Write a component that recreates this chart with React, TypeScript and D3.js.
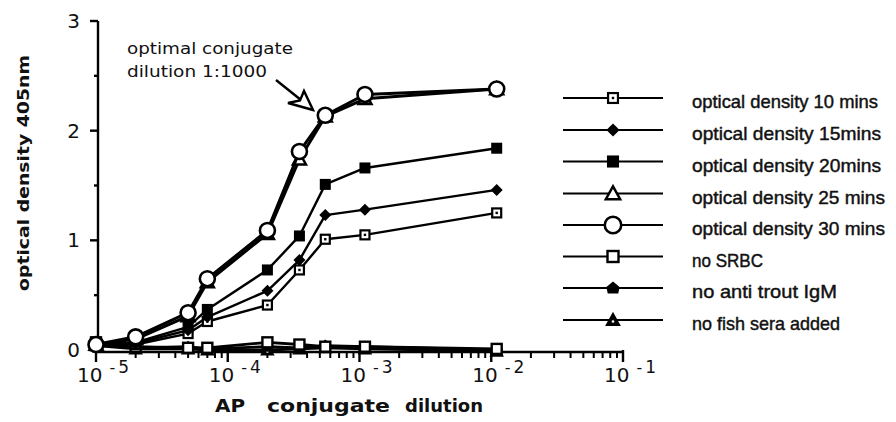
import React from 'react';
import * as d3 from 'd3';

// AP conjugate dilutions used in the ELISA titration
const dilutions = [1e-5, 2e-5, 5e-5, 7e-5, 2e-4, 3.5e-4, 5.5e-4, 1.1e-3, 1.1e-2];

// optical density (405nm) readings at each dilution
const od10 = [0.05, 0.05, 0.15, 0.26, 0.41, 0.73, 1.01, 1.05, 1.25];
const od15 = [0.05, 0.06, 0.18, 0.3, 0.54, 0.82, 1.23, 1.28, 1.46];
const od20 = [0.05, 0.07, 0.21, 0.37, 0.73, 1.04, 1.51, 1.66, 1.84];
const od25 = [0.05, 0.1, 0.31, 0.62, 1.06, 1.74, 2.13, 2.29, 2.38];
const od30 = [0.05, 0.12, 0.34, 0.65, 1.09, 1.81, 2.14, 2.33, 2.38];
const noSRBC = [0.07, 0.03, 0.02, 0.02, 0.07, 0.05, 0.03, 0.03, 0.01];
const noAntiTroutIgM = [0.05, 0.02, 0.03, 0.01, 0.03, 0.02, 0.04, 0.03, 0.0];
const noFishSera = [0.04, 0.01, 0.01, 0.0, 0.0, 0.01, 0.02, 0.01, -0.01];

const legendLabels = [
  'optical density 10 mins',
  'optical density 15mins',
  'optical density 20mins',
  'optical density 25 mins',
  'optical density 30 mins',
  'no SRBC',
  'no anti trout IgM',
  'no fish sera added',
];
const legendMarkers = ['sqdot', 'diamond', 'square', 'triangle', 'circle', 'opensq', 'pentagon', 'tridot'];
const legendTextWidths = [186, 189, 189, 193, 193, 71, 145, 148];

const yTicks = [0, 1, 2, 3];
const yMinorTicks = [0.5, 1.5, 2.5];
const xDecades = [-5, -4, -3, -2, -1];

type MarkerType = string;

function Marker({ type, cx, cy, big = false }: { type: MarkerType; cx: number; cy: number; big?: boolean }) {
  const k = big ? 1.1 : 1;
  switch (type) {
    case 'sqdot': {
      const h = 4.5 * k;
      return (
        <g>
          <rect x={cx - h} y={cy - h} width={2 * h} height={2 * h} fill="#fff" stroke="#000" strokeWidth={2.2} />
          <rect x={cx - 1.2} y={cy - 1.2} width={2.4} height={2.4} fill="#000" />
        </g>
      );
    }
    case 'diamond': {
      const s = 6 * k;
      return <path d={`M${cx},${cy - s}L${cx + s},${cy}L${cx},${cy + s}L${cx - s},${cy}Z`} fill="#000" />;
    }
    case 'square': {
      const h = 5.5 * k;
      return <rect x={cx - h} y={cy - h} width={2 * h} height={2 * h} fill="#000" />;
    }
    case 'triangle': {
      const s = 6.5 * k;
      return (
        <path
          d={`M${cx},${cy - s}L${cx + s},${cy + s * 0.8}L${cx - s},${cy + s * 0.8}Z`}
          fill="#fff"
          stroke="#000"
          strokeWidth={2.5}
          strokeLinejoin="miter"
        />
      );
    }
    case 'circle':
      return <circle cx={cx} cy={cy} r={7.5 * k} fill="#fff" stroke="#000" strokeWidth={2.6} />;
    case 'opensq': {
      const h = 5 * k;
      return <rect x={cx - h} y={cy - h} width={2 * h} height={2 * h} fill="#fff" stroke="#000" strokeWidth={2.4} />;
    }
    case 'pentagon': {
      const s = 6 * k;
      return (
        <path
          d={`M${cx},${cy - s}L${cx + s},${cy - s * 0.15}L${cx + s * 0.8},${cy + s * 0.85}L${cx - s * 0.8},${cy + s * 0.85}L${cx - s},${cy - s * 0.15}Z`}
          fill="#000"
        />
      );
    }
    case 'tridot': {
      const s = 6 * k;
      return (
        <g>
          <path d={`M${cx},${cy - s}L${cx + s},${cy + s * 0.8}L${cx - s},${cy + s * 0.8}Z`} fill="#000" stroke="#000" strokeWidth={1.5} />
          <circle cx={cx} cy={cy + 1.5} r={1.3} fill="#fff" />
        </g>
      );
    }
    default:
      return null;
  }
}

export default function App() {
  const W = 896;
  const H = 422;
  const x = d3.scaleLog().domain([1e-5, 1e-1]).range([96, 623]);
  const y = d3.scaleLinear().domain([0, 3]).range([350, 21]);
  const line = d3
    .line<number>()
    .x((_, i) => x(dilutions[i]))
    .y((d) => y(d));

  // draw order: controls underneath, strongest signal on top
  const series: { values: number[]; marker: MarkerType; width: number }[] = [
    { values: noFishSera, marker: 'tridot', width: 2.8 },
    { values: noAntiTroutIgM, marker: 'pentagon', width: 2.8 },
    { values: noSRBC, marker: 'opensq', width: 2.8 },
    { values: od10, marker: 'sqdot', width: 2.4 },
    { values: od15, marker: 'diamond', width: 2.4 },
    { values: od20, marker: 'square', width: 2.4 },
    { values: od25, marker: 'triangle', width: 3 },
    { values: od30, marker: 'circle', width: 3 },
  ];

  const minorX: number[] = [];
  for (let e = -5; e < -1; e++) {
    for (let m = 2; m <= 9; m++) minorX.push(m * Math.pow(10, e));
  }

  const [x0, x1] = x.range();
  const [yBottom, yTop] = y.range();
  const legendRows = [98, 130, 161.5, 193.5, 225, 256.5, 288, 320];

  return (
    <svg
      width={W}
      height={H}
      viewBox={`0 0 ${W} ${H}`}
      style={{ position: 'absolute', left: 0, top: 0, background: '#fff' }}
    >
      <rect width={W} height={H} fill="#fff" />

      {/* y axis */}
      <g stroke="#000" strokeWidth={2.4}>
        <line x1={x0 + 2} x2={x0 + 2} y1={yTop} y2={yBottom + 2} />
        {yTicks.map((t) => (
          <line key={`yt${t}`} x1={x0 - 6} x2={x0 + 2} y1={y(t)} y2={y(t)} />
        ))}
        {yMinorTicks.map((t) => (
          <line key={`ym${t}`} x1={x0 - 2} x2={x0 + 2} y1={y(t)} y2={y(t)} />
        ))}
      </g>
      <g fontFamily="DejaVu Sans, sans-serif" fontSize={20} textAnchor="end" fill="#111">
        {yTicks.map((t) => (
          <text key={`yl${t}`} x={x0 - 16} y={y(t) + 7}>
            {t}
          </text>
        ))}
      </g>

      {/* x axis */}
      <g stroke="#000" strokeWidth={2.4}>
        <line x1={x0} x2={x1} y1={yBottom + 2} y2={yBottom + 2} />
        {xDecades.map((e) => (
          <line key={`xt${e}`} x1={x(Math.pow(10, e))} x2={x(Math.pow(10, e))} y1={yBottom} y2={yBottom + 12} />
        ))}
        {minorX.map((v, i) => (
          <line key={`xm${i}`} x1={x(v)} x2={x(v)} y1={yBottom + 2} y2={yBottom + 8} strokeWidth={2} />
        ))}
      </g>
      <g fontFamily="DejaVu Sans, sans-serif" fill="#111">
        {xDecades.map((e) => {
          const px = x(Math.pow(10, e));
          return (
            <text key={`xl${e}`} x={px - 19} y={382} fontSize={20}>
              10
              <tspan dx={7} dy={-9} fontSize={16}>
                -
              </tspan>
              <tspan dx={3} fontSize={17}>
                {String(-e)}
              </tspan>
            </text>
          );
        })}
      </g>

      {/* axis titles */}
      <g fontFamily="DejaVu Sans, sans-serif" fontWeight="bold" fill="#111">
        <text
          transform="translate(29,173) rotate(-90)"
          textAnchor="middle"
          fontSize={15}
          textLength={236}
          lengthAdjust="spacingAndGlyphs"
        >
          optical density 405nm
        </text>
        <text x={215} y={412} fontSize={17} textLength={30} lengthAdjust="spacingAndGlyphs">
          AP
        </text>
        <text x={267} y={412} fontSize={17} textLength={123} lengthAdjust="spacingAndGlyphs">
          conjugate
        </text>
        <text x={405} y={412} fontSize={17} textLength={78} lengthAdjust="spacingAndGlyphs">
          dilution
        </text>
      </g>

      {/* series */}
      {series.map((s, si) => (
        <g key={`s${si}`}>
          <path d={line(s.values)!} fill="none" stroke="#000" strokeWidth={s.width} strokeLinejoin="round" />
          {s.values.map((v, i) => (
            <Marker key={i} type={s.marker} cx={x(dilutions[i])} cy={y(v)} />
          ))}
        </g>
      ))}

      {/* annotation for the chosen working dilution */}
      <g fontFamily="DejaVu Sans, sans-serif" fontSize={16} fill="#111">
        <text x={127} y={54} textLength={166} lengthAdjust="spacingAndGlyphs">
          optimal conjugate
        </text>
        <text x={127} y={77} textLength={140} lengthAdjust="spacingAndGlyphs">
          dilution 1:1000
        </text>
      </g>
      <g stroke="#000" strokeWidth={2.4} strokeLinejoin="miter">
        <line x1={276} y1={80} x2={301} y2={100} />
        <path d="M313,110L288,103L300,100.5L304,91Z" fill="#fff" />
      </g>

      {/* legend */}
      {legendLabels.map((label, i) => {
        const ly = legendRows[i];
        return (
          <g key={`lg${i}`}>
            <line x1={563} x2={663} y1={ly} y2={ly} stroke="#000" strokeWidth={2} />
            <Marker type={legendMarkers[i]} cx={613} cy={ly} big />
            <text
              x={692}
              y={ly + 10}
              fontFamily="Liberation Sans, Arial, sans-serif"
              fontSize={19}
              fill="#111"
              stroke="#111"
              strokeWidth={0.45}
              textLength={legendTextWidths[i]}
              lengthAdjust="spacingAndGlyphs"
            >
              {label}
            </text>
          </g>
        );
      })}
    </svg>
  );
}
